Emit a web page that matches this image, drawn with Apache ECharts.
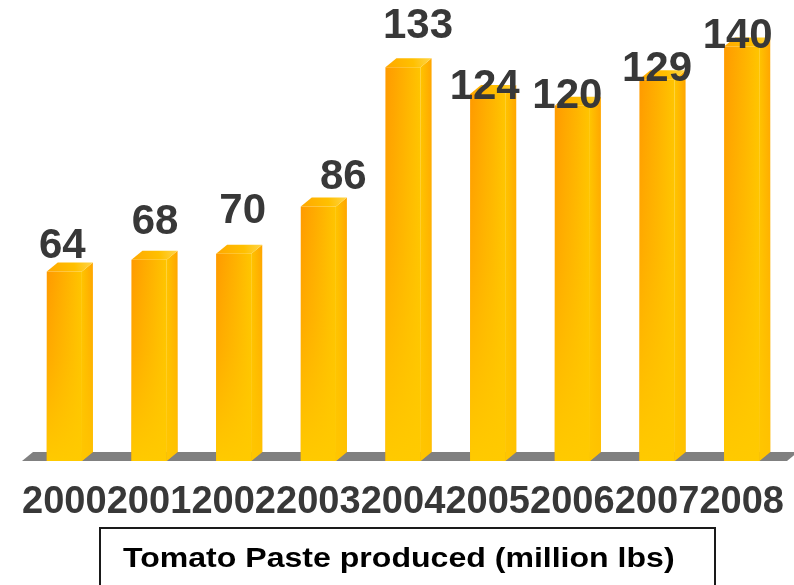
<!DOCTYPE html>
<html>
<head>
<meta charset="utf-8">
<title>Tomato Paste produced</title>
<script src="https://cdn.jsdelivr.net/npm/echarts@6/dist/echarts.min.js"></script>
<style>
  html, body { margin: 0; padding: 0; background: #ffffff; }
  #chart { width: 794px; height: 585px; }
</style>
</head>
<body>
<div id="chart"></div>
<script>
// Production per year, million lbs
const years = ['2000', '2001', '2002', '2003', '2004', '2005', '2006', '2007', '2008'];
const produced = [64, 68, 70, 86, 133, 124, 120, 129, 140];
const seriesName = 'Tomato Paste produced (million lbs)';

// Where each value label sits, relative to the top centre of its bar (px)
const labelShift = [[-2, -25], [6, -37], [9, -42], [25, -29], [15, -41], [-3, -7], [-5, -9], [0, -10], [-4, -10]];

// Depth of the extruded look
const DEPTH_X = 11;
const DEPTH_Y = 9;
const FONT = '"Liberation Sans", Arial, Helvetica, sans-serif';

function lin(x, y, x2, y2, stops) {
  return { type: 'linear', x: x, y: y, x2: x2, y2: y2,
    colorStops: stops.map(function (s) { return { offset: s[0], color: s[1] }; }) };
}

function renderFloor(params) {
  const cs = params.coordSys;
  const yb = cs.y + cs.height;
  return {
    type: 'polygon',
    shape: { points: [[cs.x, yb], [cs.x + cs.width + 3, yb], [cs.x + cs.width + 3 + DEPTH_X, yb - DEPTH_Y], [cs.x + DEPTH_X, yb - DEPTH_Y]] },
    style: { fill: '#808080' }
  };
}

function renderBar(params, api) {
  const i = params.dataIndex;
  const top = api.coord([api.value(0), api.value(1)]);
  const base = api.coord([api.value(0), 0]);
  const band = api.size([1, 0])[0];
  const w = band * 0.415;
  const x0 = top[0] - w / 2;
  const x1 = top[0] + w / 2;
  const yt = top[1];
  const yb = base[1];
  const h = yb - yt;

  const front = {
    type: 'rect',
    shape: { x: x0, y: yt, width: w, height: h },
    style: { fill: lin(0, 0, 1, 0, [[0, '#FF9A00'], [0.6, '#FFB300'], [1, '#FFC500']]) }
  };
  const frontFade = {
    type: 'rect',
    shape: { x: x0, y: yt, width: w, height: h },
    style: { fill: lin(0, 0, 0, 1, [[0, 'rgba(255,200,0,0)'], [0.45, 'rgba(255,200,0,0.35)'], [1, 'rgba(255,202,0,1)']]) }
  };
  const sidePts = [[x1, yt], [x1 + DEPTH_X, yt - DEPTH_Y], [x1 + DEPTH_X, yb - DEPTH_Y], [x1, yb]];
  const side = {
    type: 'polygon',
    shape: { points: sidePts },
    style: { fill: lin(0, 0, 1, 0, [[0, '#FFC400'], [1, '#FFA400']]) }
  };
  const sideFade = {
    type: 'polygon',
    shape: { points: sidePts },
    style: { fill: lin(0, 0, 0, 1, [[0, 'rgba(255,196,0,0)'], [1, 'rgba(255,198,0,0.9)']]) }
  };
  const lid = {
    type: 'polygon',
    shape: { points: [[x0, yt], [x1, yt], [x1 + DEPTH_X, yt - DEPTH_Y], [x0 + DEPTH_X, yt - DEPTH_Y]] },
    style: { fill: lin(0, 1, 1, 0, [[0, '#FFA800'], [0.6, '#FFC000'], [1, '#FFD54A']]) }
  };
  const shift = labelShift[i];
  const label = {
    type: 'text',
    x: top[0] + shift[0],
    y: yt + shift[1],
    z2: 10,
    style: {
      text: String(api.value(1)),
      fill: '#383838',
      font: 'bold 42px ' + FONT,
      align: 'center',
      verticalAlign: 'middle'
    }
  };
  return { type: 'group', children: [front, frontFade, side, sideFade, lid, label] };
}

const chart = echarts.init(document.getElementById('chart'), null, { renderer: 'canvas' });

chart.setOption({
  backgroundColor: '#ffffff',
  animation: false,
  grid: { left: 22, right: 10, top: 17, bottom: 124 },
  xAxis: {
    type: 'category',
    data: years,
    axisLine: { show: false },
    axisTick: { show: false },
    splitLine: { show: false },
    axisLabel: {
      interval: 0,
      margin: 23,
      color: '#383838',
      fontSize: 38,
      fontWeight: 'bold',
      fontFamily: FONT
    }
  },
  yAxis: {
    type: 'value',
    min: 0,
    max: 150,
    show: false,
    splitLine: { show: false }
  },
  series: [
    {
      type: 'custom',
      name: 'floor',
      silent: true,
      renderItem: renderFloor,
      data: [[0, 0]],
      z: 1
    },
    {
      type: 'custom',
      name: seriesName,
      renderItem: renderBar,
      data: produced.map(function (v, i) { return [i, v]; }),
      z: 2
    }
  ],
  graphic: [
    {
      type: 'rect',
      shape: { x: 100, y: 528, width: 615, height: 80 },
      style: { fill: '#ffffff', stroke: '#1a1a1a', lineWidth: 2 },
      z: 10
    },
    {
      type: 'text',
      x: 123,
      y: 559,
      scaleX: 1.145,
      z: 11,
      style: {
        text: seriesName,
        fill: '#000000',
        font: 'bold 28px ' + FONT,
        align: 'left',
        verticalAlign: 'middle'
      }
    }
  ]
});
</script>
</body>
</html>
